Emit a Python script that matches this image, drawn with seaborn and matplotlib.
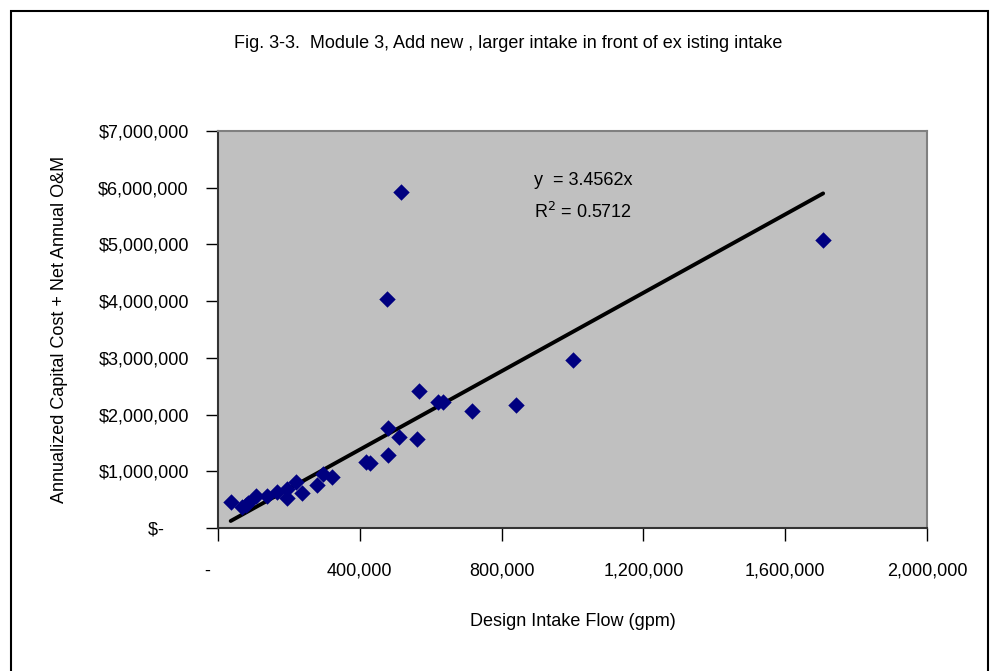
import pandas as pd
import seaborn as sns
import matplotlib.pyplot as plt
from matplotlib.ticker import FuncFormatter, MultipleLocator
from matplotlib.patches import Rectangle

# values
flow_gpm = [35800, 68500, 78000, 85500, 107200, 137400, 165600, 193800, 195500,
            220000, 237800, 278400, 295400, 320700, 416600, 428800, 478700,
            478700, 511400, 560500, 565600, 620600, 634700, 716500, 840600,
            1001000, 476700, 516000, 1707000]
cost_usd = [463700, 375600, 400000, 435500, 564000, 569500, 640000, 534000, 682000,
            816000, 622000, 758000, 952000, 904000, 1169000, 1141000, 1287000,
            1758000, 1610000, 1569000, 2407000, 2227000, 2227000, 2063000, 2169000,
            2962000, 4038000, 5924000, 5078000]
slope = 3.4562
r_squared = 0.5712

title = "Fig. 3-3.  Module 3, Add new , larger intake in front of ex isting intake"
x_label = "Design Intake Flow (gpm)"
y_label = "Annualized Capital Cost + Net Annual O&M"

df = pd.DataFrame({'flow': flow_gpm, 'cost': cost_usd})
trend = pd.DataFrame({'flow': [df['flow'].min(), df['flow'].max()]})
trend['cost'] = slope * trend['flow']

sns.set_style('white')
plt.rcParams['font.family'] = ['Liberation Sans Narrow', 'Liberation Sans', 'DejaVu Sans']
plt.rcParams['text.color'] = 'black'
plt.rcParams['axes.labelcolor'] = 'black'
plt.rcParams['xtick.color'] = 'black'
plt.rcParams['ytick.color'] = 'black'

fig = plt.figure(figsize=(9.97, 6.71), dpi=100)
ax = fig.add_axes([218 / 997, 1 - 528 / 671, (927 - 218) / 997, (528 - 131) / 671])
ax.set_facecolor('#C0C0C0')

sns.lineplot(data=trend, x='flow', y='cost', color='black', linewidth=2.8, ax=ax)
sns.scatterplot(data=df, x='flow', y='cost', marker='D', s=70, color='#000080',
                edgecolor='#000080', linewidth=0, ax=ax, zorder=3)

ax.set_xlim(0, 2000000)
ax.set_ylim(0, 7000000)
ax.xaxis.set_major_locator(MultipleLocator(400000))
ax.yaxis.set_major_locator(MultipleLocator(1000000))
ax.xaxis.set_major_formatter(FuncFormatter(lambda v, p: '-    ' if v == 0 else f'{v:,.0f}'))
ax.yaxis.set_major_formatter(FuncFormatter(lambda v, p: '$-     ' if v == 0 else f'${v:,.0f}'))
ax.tick_params(axis='x', direction='out', length=9, width=1, pad=16, labelsize=13, bottom=True)
ax.tick_params(axis='y', direction='out', length=9, width=1, pad=12, labelsize=13, left=True)

ax.set_xlabel(x_label, fontsize=13, labelpad=24)
ax.set_ylabel(y_label, fontsize=13, labelpad=22)

for side in ['left', 'bottom']:
    ax.spines[side].set_color('#333333')
    ax.spines[side].set_linewidth(1.5)
for side in ['top', 'right']:
    ax.spines[side].set_color('#808080')
    ax.spines[side].set_linewidth(1.5)

ax.text(0.515, 0.875, 'y  = 3.4562x', transform=ax.transAxes, ha='center', va='center', fontsize=13)
ax.text(0.515, 0.795, f'R$^2$ = {r_squared}', transform=ax.transAxes, ha='center', va='center', fontsize=13)

fig.text(508 / 997, 1 - 43 / 671, title, ha='center', va='center', fontsize=13)

# chart frame
fig.patches.append(Rectangle((11 / 997, -0.05), (988 - 11) / 997, 1 - 11 / 671 + 0.05,
                             transform=fig.transFigure, fill=False, edgecolor='black',
                             linewidth=1.5))

plt.savefig('out.png', dpi=100)
plt.close()
